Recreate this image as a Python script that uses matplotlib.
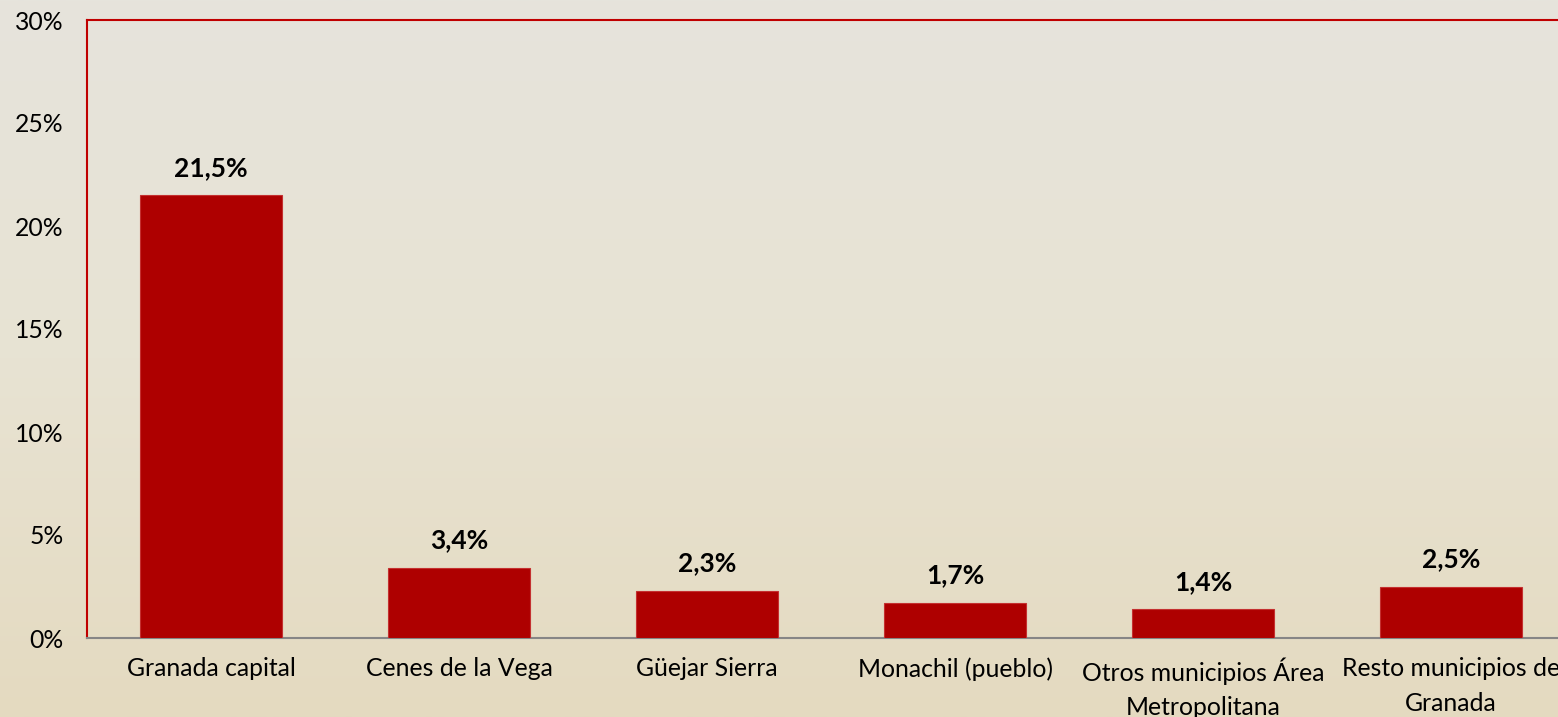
import numpy as np
import matplotlib

matplotlib.use('Agg')
import matplotlib.pyplot as plt
from matplotlib.colors import LinearSegmentedColormap

# data
categories = ["Granada capital", "Cenes de la Vega", "Güejar Sierra", "Monachil (pueblo)",
              "Otros municipios Área\nMetropolitana", "Resto municipios de\nGranada"]
values = [21.5, 3.4, 2.3, 1.7, 1.4, 2.5]
value_labels = ["21,5%", "3,4%", "2,3%", "1,7%", "1,4%", "2,5%"]
yticks = [0, 5, 10, 15, 20, 25, 30]

plt.rcParams['font.family'] = ['Lato', 'DejaVu Sans']

W, H = 1558, 717
fig = plt.figure(figsize=(W / 100, H / 100), dpi=100)

# background gradient, grey on top to beige at the bottom
bg = fig.add_axes([0, 0, 1, 1], zorder=-10)
grad = np.linspace(0, 1, 256).reshape(-1, 1)
cmap = LinearSegmentedColormap.from_list("bg", ["#E6E4DC", "#E8E3D3", "#E4DAC0"])
bg.imshow(grad, aspect="auto", cmap=cmap, extent=[0, 1, 0, 1], origin="upper")
bg.axis("off")

# plot area runs past the right edge of the picture, as in the reference
left, right, top, bottom = 87, 1575, 20, 638
ax = fig.add_axes([left / W, 1 - bottom / H, (right - left) / W, (bottom - top) / H])
ax.patch.set_alpha(0)

x = np.arange(len(categories))
ax.bar(x, values, width=0.573, color="#AE0000", edgecolor="#C43030", linewidth=0.8, zorder=3)

for xi, v, lab in zip(x, values, value_labels):
    ax.text(xi, v + 0.75, lab, ha="center", va="bottom", fontsize=19, fontweight="bold", color="black")

ax.set_xlim(-0.5, len(categories) - 0.5)
ax.set_ylim(0, 30)
ax.set_yticks(yticks)
ax.set_yticklabels([f"{t}%" for t in yticks])
ax.set_xticks(x)
ax.set_xticklabels(categories, linespacing=1.6)
ax.tick_params(axis="both", length=0, labelsize=17.8, colors="black")
ax.tick_params(axis="y", pad=17)
ax.tick_params(axis="x", pad=14)

for s in ["left", "top", "right"]:
    ax.spines[s].set_color("#C00000")
    ax.spines[s].set_linewidth(1.5)
ax.spines["bottom"].set_color("#868686")
ax.spines["bottom"].set_linewidth(1.5)

fig.savefig("out.png", dpi=100)
